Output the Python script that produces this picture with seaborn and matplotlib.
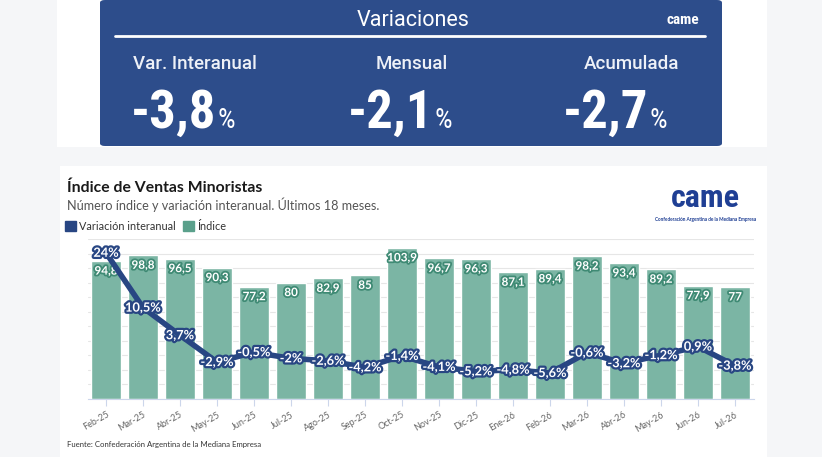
import numpy as np
import pandas as pd
import matplotlib
matplotlib.use("Agg")
import matplotlib.pyplot as plt
import seaborn as sns
from matplotlib import font_manager as fm, patheffects as pe
from matplotlib.patches import Rectangle, FancyBboxPatch, Patch
from matplotlib.lines import Line2D

# ---------------- data ----------------
meses = ["Feb-25", "Mar-25", "Abr-25", "May-25", "Jun-25", "Jul-25", "Ago-25", "Sep-25",
         "Oct-25", "Nov-25", "Dic-25", "Ene-26", "Feb-26", "Mar-26", "Abr-26", "May-26",
         "Jun-26", "Jul-26"]
indice = [94.8, 98.8, 96.5, 90.3, 77.2, 80, 82.9, 85, 103.9, 96.7, 96.3, 87.1, 89.4,
          98.2, 93.4, 89.2, 77.9, 77]
variacion = [24, 10.5, 3.7, -2.9, -0.5, -2, -2.6, -4.2, -1.4, -4.1, -5.2, -4.8, -5.6,
             -0.6, -3.2, -1.2, 0.9, -3.8]
resumen_titulos = ["Var. Interanual", "Mensual", "Acumulada"]
resumen_valores = ["-3,8", "-2,1", "-2,7"]

def fmt(v):
    s = f"{v:.1f}".rstrip("0").rstrip(".")
    return s.replace(".", ",")

indice_labels = [fmt(v) for v in indice]
variacion_labels = [fmt(v) + "%" for v in variacion]

# ---------------- style ----------------
W, H = 822, 457
sns.set_theme(style="white")
avail = {f.name for f in fm.fontManager.ttflist}

def pick(*names):
    for n in names:
        if n in avail:
            return n
    return "DejaVu Sans"

BASE = pick("Lato", "Noto Sans", "DejaVu Sans")
COND = pick("Roboto Condensed", "Liberation Sans Narrow", "Open Sans Condensed", "Roboto", "Inter")
SANS = pick("Roboto", "Inter", "Noto Sans", "DejaVu Sans")
plt.rcParams["font.family"] = [BASE, "DejaVu Sans"]

NAVY = "#284683"
BOX = "#2d4d8b"
TEAL = "#7bb5a4"
TEAL_D = "#5aa08b"
TEAL_S = "#3f8a74"

fig = plt.figure(figsize=(W / 100, H / 100), dpi=100)
fig.patch.set_facecolor("#f5f6f8")

def fx(x):
    return x / W

def fy(y):
    return 1 - y / H

def rect(x0, y0, x1, y1, **kw):
    return Rectangle((fx(x0), fy(y1)), fx(x1) - fx(x0), fy(y0) - fy(y1),
                     transform=fig.transFigure, **kw)

fig.add_artist(rect(57, 0, 767, 147, facecolor="white", edgecolor="none", zorder=-5))
fig.add_artist(rect(60, 166, 767, 457, facecolor="white", edgecolor="none", zorder=-5))
fig.add_artist(FancyBboxPatch((fx(100), fy(146)), fx(722) - fx(100), fy(0) - fy(146),
                              boxstyle="round,pad=0,rounding_size=0.006",
                              transform=fig.transFigure, facecolor=BOX, edgecolor="none",
                              zorder=-4))
fig.add_artist(Line2D([fx(115), fx(705)], [fy(36), fy(36)], transform=fig.transFigure,
                      color="white", lw=2, zorder=-3))

# header texts
fig.text(fx(413), fy(26), "Variaciones", color="white", fontsize=15.5, ha="center",
         va="baseline", family=[SANS, "DejaVu Sans"], fontweight="normal")
fig.text(fx(683), fy(24), "came", color="white", fontsize=11, ha="center", va="baseline",
         fontweight="heavy", family=[COND, "DejaVu Sans"])
centers = [195, 412, 632]
splits = [216, 433, 648]
for c, s, t, v in zip(centers, splits, resumen_titulos, resumen_valores):
    fig.text(fx(c), fy(69), t, color="#eef1f7", fontsize=13.5, ha="center", va="baseline",
             fontweight="medium", family=[SANS, "DejaVu Sans"])
    fig.text(fx(s), fy(128), v, color="white", fontsize=38, ha="right", va="baseline",
             fontweight="bold", family=[COND, "DejaVu Sans"])
    fig.text(fx(s + 1), fy(128), "%", color="white", fontsize=20, ha="left", va="baseline",
             family=[COND, "DejaVu Sans"])

# chart titles
fig.text(fx(67), fy(192), "Índice de Ventas Minoristas", fontsize=11.3, fontweight="bold",
         color="#1a1a1a", va="baseline")
fig.text(fx(67), fy(210), "Número índice y variación interanual. Últimos 18 meses.",
         fontsize=9.1, color="#555555", va="baseline")
fig.text(fx(67), fy(447), "Fuente: Confederación Argentina de la Mediana Empresa",
         fontsize=5.6, color="#333333", va="baseline")

# logo
fig.text(fx(705), fy(207), "came", fontsize=23, fontweight="heavy", color="#1f3f94",
         ha="center", va="baseline", family=[COND, "DejaVu Sans"])
fig.text(fx(706), fy(221), "Confederación Argentina de la Mediana Empresa", fontsize=3.4,
         color="#1f3f94", ha="center", va="baseline", fontweight="bold")

fig.legend(handles=[Patch(color=NAVY, label="Variación interanual"),
                    Patch(color=TEAL_D, label="Índice")],
           loc="center left", bbox_to_anchor=(fx(65), fy(226)), ncol=2, frameon=False,
           fontsize=7.8, handlelength=1.0, handleheight=1.0, handletextpad=0.3,
           columnspacing=0.7, borderpad=0, borderaxespad=0, labelcolor="#333333")

# ---------------- chart ----------------
df = pd.DataFrame({"mes": meses, "indice": indice, "variacion": variacion,
                   "pos": np.arange(len(meses))})
ax = fig.add_axes([fx(87.5), fy(399), fx(753.5) - fx(87.5), fy(239) - fy(399)])
ax.patch.set_alpha(0)
sns.barplot(data=df, x="mes", y="indice", color=TEAL, saturation=1, width=0.8, ax=ax,
            zorder=2)
ax2 = ax.twinx()

ax.set_ylim(0, 110)
ax.set_xlim(-0.5, len(meses) - 0.5)
ax.set_yticks(np.arange(0, 111, 10))
ax.grid(axis="y", color="#e6e6e6", lw=0.8)
ax.set_axisbelow(True)
ax.tick_params(axis="y", left=False, right=False, labelleft=False, labelright=False)
ax.set_xlabel("")
ax.set_ylabel("")
for sp in ["left", "right", "top"]:
    ax.spines[sp].set_visible(False)
ax.spines["bottom"].set_color("#ccd6eb")
ax.spines["bottom"].set_linewidth(0.8)
ax.set_xticks(range(len(meses)))
ax.set_xticklabels(meses, rotation=30, ha="right", rotation_mode="anchor",
                   fontsize=6.5, color="#666666")
ax.tick_params(axis="x", bottom=True, length=5, width=0.8, color="#ccd6eb", pad=3)

for i, (v, lbl) in enumerate(zip(indice, indice_labels)):
    ax.annotate(lbl, (i, v), xytext=(0, -10), textcoords="offset pixels", ha="center",
                va="center", color="white", fontsize=8.4, fontweight="bold", zorder=4,
                path_effects=[pe.withStroke(linewidth=2.6, foreground=TEAL_S)])

sns.lineplot(data=df, x="pos", y="variacion", color=NAVY, linewidth=4, ax=ax2,
             legend=False, solid_capstyle="round", solid_joinstyle="round")
ax2.set_ylim(-12, 27.4)
ax2.set_yticks([])
ax2.tick_params(axis="y", left=False, right=False, labelleft=False, labelright=False)
ax2.set_ylabel("")
for sp in ax2.spines.values():
    sp.set_visible(False)
for i, (v, lbl) in enumerate(zip(variacion, variacion_labels)):
    ax2.text(i, v, lbl, ha="center", va="center", color="white", fontsize=9.2,
             fontweight="bold", zorder=5,
             path_effects=[pe.withStroke(linewidth=3.2, foreground=NAVY)])

fig.savefig("out.png", dpi=100, facecolor=fig.get_facecolor())
